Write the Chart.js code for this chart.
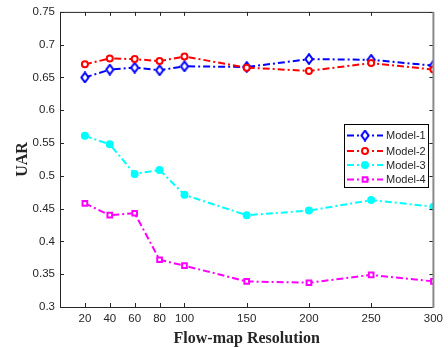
<!DOCTYPE html>
<html><head><meta charset="utf-8">
<script src="https://cdn.jsdelivr.net/npm/chart.js@4"></script>
<style>html,body{margin:0;padding:0;background:#fff;}canvas{display:block;}</style>
</head><body>
<canvas id="c" width="448" height="347"></canvas>
<script>
const resolutions = [20, 40, 60, 80, 100, 150, 200, 250, 300];
const model1 = [0.650, 0.662, 0.665, 0.661, 0.667, 0.666, 0.678, 0.677, 0.668];
const model2 = [0.670, 0.679, 0.678, 0.675, 0.682, 0.665, 0.660, 0.672, 0.662];
const model3 = [0.561, 0.548, 0.503, 0.509, 0.471, 0.440, 0.447, 0.463, 0.453];
const model4 = [0.458, 0.440, 0.443, 0.372, 0.363, 0.339, 0.337, 0.349, 0.339];
const seriesNames = ['Model-1', 'Model-2', 'Model-3', 'Model-4'];
const xTicks = [20, 40, 60, 80, 100, 150, 200, 250, 300];
const yTicks = [0.3, 0.35, 0.4, 0.45, 0.5, 0.55, 0.6, 0.65, 0.7, 0.75];

const DASH = [7, 3, 2, 3];
const AXC = '#262626';
const tickFont = {family: 'Liberation Sans, Arial, sans-serif', size: 11.5};

function pts(arr){ return resolutions.map((x,i)=>({x:x, y:arr[i]})); }

// narrow diamond marker image (MATLAB-like)
function makeDiamond(color){
  const c = document.createElement('canvas');
  c.width = 10; c.height = 12;
  const g = c.getContext('2d');
  g.beginPath();
  g.moveTo(5, 1.2); g.lineTo(8.6, 6); g.lineTo(5, 10.8); g.lineTo(1.4, 6); g.closePath();
  g.fillStyle = '#ffffff'; g.fill();
  g.strokeStyle = color; g.lineWidth = 2; g.stroke();
  return c;
}
const diamond = makeDiamond('#0000ff');

const styles = [
  {color:'#0000ff', pointStyle:diamond, radius:4, fill:'#ffffff', order:4},
  {color:'#ff0000', pointStyle:'circle', radius:3, fill:'#ffffff', order:3},
  {color:'#00ffff', pointStyle:'circle', radius:3, fill:'#00ffff', order:2},
  {color:'#ff00ff', pointStyle:'rect', radius:3.3, fill:'#ffffff', order:1}
];
const seriesData = [model1, model2, model3, model4];

const datasets = seriesData.map((d,i)=>({
  label: seriesNames[i],
  data: pts(d),
  borderColor: styles[i].color,
  backgroundColor: styles[i].fill,
  pointBackgroundColor: styles[i].fill,
  pointBorderColor: styles[i].color,
  pointStyle: styles[i].pointStyle,
  pointRadius: styles[i].radius,
  pointBorderWidth: 2,
  borderWidth: 2,
  borderDash: DASH,
  tension: 0,
  fill: false,
  order: styles[i].order
}));

const framePlugin = {
  id: 'frame',
  afterDatasetsDraw(chart){
    const ctx = chart.ctx, a = chart.chartArea;
    const xs = chart.scales.x, ys = chart.scales.y;
    ctx.save();
    ctx.strokeStyle = AXC; ctx.lineWidth = 1;
    ctx.beginPath();
    xTicks.forEach(v=>{
      const px = Math.round(xs.getPixelForValue(v)) + 0.5;
      ctx.moveTo(px, a.bottom); ctx.lineTo(px, a.bottom - 4);
      ctx.moveTo(px, a.top); ctx.lineTo(px, a.top + 4);
    });
    yTicks.forEach(v=>{
      const py = Math.round(ys.getPixelForValue(v)) + 0.5;
      ctx.moveTo(a.left, py); ctx.lineTo(a.left + 4, py);
      ctx.moveTo(a.right, py); ctx.lineTo(a.right - 4, py);
    });
    ctx.stroke();
    ctx.beginPath();
    ctx.moveTo(a.left + 0.5, a.top + 0.5);
    ctx.lineTo(a.right, a.top + 0.5);
    ctx.moveTo(a.left + 0.5, a.top);
    ctx.lineTo(a.left + 0.5, a.bottom + 0.5);
    ctx.lineTo(a.right, a.bottom + 0.5);
    ctx.stroke();
    ctx.strokeStyle = '#8a8a8a'; ctx.lineWidth = 2;
    ctx.beginPath();
    ctx.moveTo(a.right, a.top); ctx.lineTo(a.right, a.bottom + 1);
    ctx.stroke();

    // legend box
    const lx = 344, ly = 124, lw = 84, lh = 63;
    ctx.fillStyle = '#ffffff';
    ctx.fillRect(lx, ly, lw, lh);
    ctx.strokeStyle = '#000000'; ctx.lineWidth = 1;
    ctx.strokeRect(lx + 0.5, ly + 0.5, lw, lh);
    const rowY = [135.5, 151, 165, 179.5];
    chart.data.datasets.forEach((ds,i)=>{
      const y = rowY[i];
      ctx.save();
      ctx.strokeStyle = ds.borderColor; ctx.lineWidth = 2;
      ctx.setLineDash(DASH);
      ctx.beginPath(); ctx.moveTo(347, y); ctx.lineTo(383, y); ctx.stroke();
      ctx.setLineDash([]);
      ctx.fillStyle = ds.pointBackgroundColor;
      Chart.helpers.drawPoint(ctx, {pointStyle: ds.pointStyle, radius: ds.pointRadius, borderWidth: 2}, 365, y);
      ctx.restore();
      ctx.fillStyle = AXC;
      ctx.font = '11px "Liberation Sans", Arial, sans-serif';
      ctx.textBaseline = 'middle';
      ctx.textAlign = 'left';
      ctx.fillText(ds.label, 386, y + 0.5);
    });
    ctx.restore();
  }
};

new Chart(document.getElementById('c'), {
  type: 'line',
  data: { datasets },
  options: {
    responsive: false,
    animation: false,
    layout: { padding: { top: 9, right: 11, left: 0, bottom: 0 } },
    plugins: { legend: { display: false }, tooltip: { enabled: false } },
    scales: {
      x: {
        type: 'linear', min: 0, max: 300,
        afterBuildTicks: s => { s.ticks = xTicks.map(v=>({value:v})); },
        afterFit: s => { s.height = 40; },
        grid: { display: false, drawTicks: false },
        border: { display: false },
        ticks: { color: AXC, font: tickFont, padding: 5, maxRotation: 0, autoSkip: false },
        title: { display: true, text: 'Flow-map Resolution', color: AXC,
          font: { family: 'Liberation Serif, Times New Roman, serif', size: 16, weight: 'bold' },
          padding: { top: 0, bottom: -1 } }
      },
      y: {
        type: 'linear', min: 0.3, max: 0.75,
        afterBuildTicks: s => { s.ticks = yTicks.map(v=>({value:v})); },
        afterFit: s => { s.width = 60; },
        grid: { display: false, drawTicks: false },
        border: { display: false },
        ticks: { color: AXC, font: tickFont, padding: 5, autoSkip: false,
          callback: v => String(Number(v.toFixed(2))) },
        title: { display: true, text: 'UAR', color: AXC,
          font: { family: 'Liberation Serif, Times New Roman, serif', size: 16, weight: 'bold' },
          padding: { top: 13, bottom: 0 } }
      }
    }
  },
  plugins: [framePlugin]
});
</script>
</body></html>
